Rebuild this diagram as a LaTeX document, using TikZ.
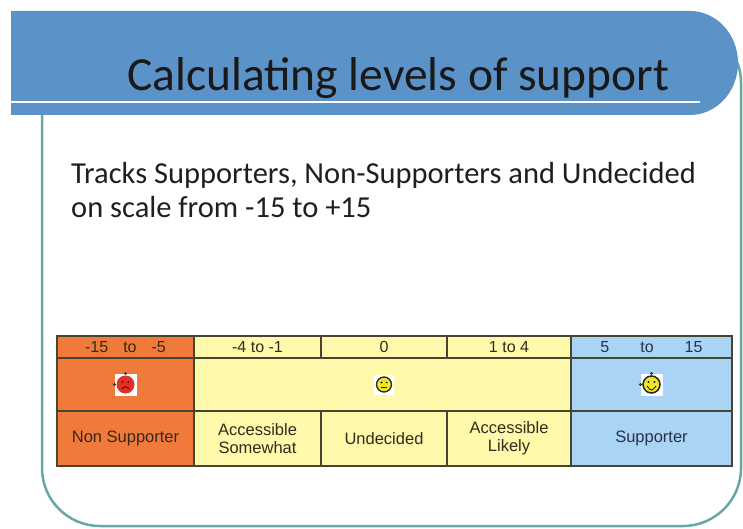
\documentclass[tikz,border=0pt]{standalone}
\usepackage{fontspec}
\setmainfont{Carlito}
\newfontfamily\tblfont{Liberation Sans}
\usetikzlibrary{positioning}

\definecolor{titlebar}{RGB}{91,146,200}
\definecolor{frameteal}{RGB}{104,168,164}
\definecolor{orangecell}{RGB}{240,122,58}
\definecolor{yellowcell}{RGB}{255,249,172}
\definecolor{bluecell}{RGB}{170,212,245}
\definecolor{tblline}{RGB}{72,68,52}
\definecolor{tbltext}{RGB}{52,42,26}
\definecolor{suptext}{RGB}{40,50,72}
\definecolor{facered}{RGB}{226,48,40}
\definecolor{faceyellow}{RGB}{240,230,40}

\tikzset{
    sadface/.pic={
        \fill[white] (-11,-11) rectangle (11,11);
        \fill[facered] (0,0) circle[radius=9];
        \fill[black!80] (0,-11) circle[radius=1.6] (-11,0) circle[radius=1.6];
        \fill[red!50!black] (-3,-2.5) circle[radius=1.2] (3,-2.5) circle[radius=1.2];
        \draw[red!50!black, line width=0.9pt] (-4,4.5) .. controls (0,1.5) .. (4,4.5);
    },
    flatface/.pic={
        \fill[white] (-10,-10) rectangle (10,10);
        \filldraw[fill=faceyellow, draw=black!85, line width=1.3pt] (0,0) circle[radius=7.5];
        \fill[black!85] (-2.6,-2) circle[radius=1.1] (2.6,-2) circle[radius=1.1];
        \draw[black!85, line width=0.9pt] (-3.2,3) -- (3.2,3);
    },
    happyface/.pic={
        \fill[white] (-11,-11) rectangle (11,11);
        \filldraw[fill=faceyellow, draw=black!85, line width=1.5pt] (0,0) circle[radius=8.5];
        \fill[black!80] (0,-11) circle[radius=1.6] (-11,0) circle[radius=1.6];
        \fill[black!85] (-3,-2.5) circle[radius=1.2] (3,-2.5) circle[radius=1.2];
        \draw[black!85, line width=0.9pt] (-4.5,1.5) .. controls (0,7) .. (4.5,1.5);
    }
}

\begin{document}
\begin{tikzpicture}[
        x=1pt, y=-1pt,
        cell/.style={draw=tblline, line width=1.2pt, outer sep=0pt, inner sep=0pt,
            align=center, text=tbltext, font=\tblfont\fontsize{16.5}{18}\selectfont},
        head/.style={cell, minimum height=22pt, font=\tblfont\fontsize{16}{17}\selectfont},
        mid/.style={cell, minimum height=53pt},
        foot/.style={cell, minimum height=55pt}
    ]
        \useasboundingbox (0,0) rectangle (743,529);
        \fill[white] (0,0) rectangle (743,529);

        % Slide frame and title bar
        \draw[frameteal, line width=2.5pt, rounded corners=58pt] (42,25) rectangle (741,526);
        \fill[titlebar] (11,11) -- (690,11) arc[start angle=-90, end angle=90, x radius=48, y radius=52] -- (11,115) -- cycle;
        \draw[white, line width=2.5pt] (11,102) -- (700,102);
        \node[anchor=base west, inner sep=0pt, text=black!90, font=\fontsize{47.5}{50}\selectfont] (title) at (127,91) {Calculating levels of support};

        % Body text
        \node[anchor=base west, inner sep=0pt, align=left, text=black!88, font=\fontsize{30.5}{34}\selectfont] (intro) at (71,218)
            {Tracks Supporters, Non-Supporters and Undecided\\on scale from -15 to +15};

        % Score ranges
        \node[head, fill=orangecell, minimum width=137pt, anchor=north west] (hnon) at (57,336) {-15\hspace{15pt}to\hspace{15pt}-5};
        \node[head, fill=yellowcell, minimum width=127pt, right=0pt of hnon] (hsome) {-4 to -1};
        \node[head, fill=yellowcell, minimum width=126pt, right=0pt of hsome] (hund) {0};
        \node[head, fill=yellowcell, minimum width=124pt, right=0pt of hund] (hlike) {1 to 4};
        \node[head, fill=bluecell, minimum width=161pt, right=0pt of hlike, text=suptext] (hsup) {5\hspace{31pt}to\hspace{31pt}15};

        % Faces
        \node[mid, fill=orangecell, minimum width=137pt, below=0pt of hnon] (mnon) {};
        \node[mid, fill=yellowcell, minimum width=377pt, right=0pt of mnon] (mmid) {};
        \node[mid, fill=bluecell, minimum width=161pt, right=0pt of mmid] (msup) {};
        \pic at (mnon.center) {sadface};
        \pic at (hund.center |- mmid.center) {flatface};
        \pic at (msup.center) {happyface};

        % Categories
        \node[foot, fill=orangecell, minimum width=137pt, below=0pt of mnon] (fnon) {Non Supporter};
        \node[foot, fill=yellowcell, minimum width=127pt, right=0pt of fnon] (fsome) {Accessible\\Somewhat};
        \node[foot, fill=yellowcell, minimum width=126pt, right=0pt of fsome] (fund) {Undecided};
        \node[foot, fill=yellowcell, minimum width=124pt, right=0pt of fund] (flike) {Accessible\\Likely};
        \node[foot, fill=bluecell, minimum width=161pt, right=0pt of flike, text=suptext] (fsup) {Supporter};
    \end{tikzpicture}
\end{document}
